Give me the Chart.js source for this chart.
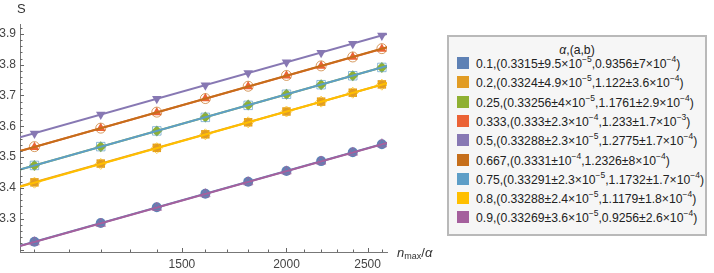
<!DOCTYPE html>
<html>
<head>
<meta charset="utf-8">
<script src="https://cdn.jsdelivr.net/npm/chart.js@4.4.1/dist/chart.umd.min.js"></script>
<style>
  body { margin: 0; background: #fff; font-family: "Liberation Sans", Arial, sans-serif; }
  #wrap { position: relative; width: 714px; height: 273px; }
  #yTitle { position: absolute; left: 17px; top: 1px; font-size: 13px; color: #333; }
  #xTitle { position: absolute; left: 397px; top: 245px; font-size: 13px; color: #333; }
  #xTitle sub { font-size: 9px; font-style: normal; vertical-align: -2px; line-height: 0; }
  #legend { position: absolute; left: 447px; top: 35px; width: 256px; height: 197px;
            background: #f6f6f6; border: 2px solid #b9b9b9; color: #222; }
  #legend .title { position: absolute; left: 0; right: 0; top: 6px; text-align: center; font-size: 12.2px; }
  #legend .row { position: absolute; left: 8px; height: 19px; line-height: 19px; font-size: 12.2px; white-space: nowrap; }
  #legend .sw { display: inline-block; width: 12px; height: 12px; margin-right: 7px; vertical-align: -1px; }
  #legend sup { font-size: 8.5px; vertical-align: baseline; position: relative; top: -6px; line-height: 0; }
</style>
</head>
<body>
<div id="wrap">
  <canvas id="chart" width="714" height="273"></canvas>
  <div id="yTitle">S</div>
  <div id="xTitle"><i>n</i><sub>max</sub>/<i>α</i></div>
  <div id="legend"><div class="title"><i>α</i>,(a,b)</div></div>
</div>
<script>
"use strict";

// x positions (n_max / alpha) of the measured points
const nValues = [1000, 1200, 1400, 1600, 1800, 2000, 2200, 2400, 2600];

const alphas = ["0.1", "0.2", "0.25", "0.333", "0.5", "0.667", "0.75", "0.8", "0.9"];

// measured S for each alpha
const s01 = [3.225, 3.286, 3.337, 3.381, 3.420, 3.455, 3.487, 3.516, 3.542];
const s02 = [3.418, 3.479, 3.530, 3.574, 3.613, 3.648, 3.680, 3.709, 3.736];
const s025 = [3.473, 3.534, 3.585, 3.630, 3.669, 3.704, 3.735, 3.764, 3.791];
const s0333 = [3.532, 3.594, 3.645, 3.690, 3.729, 3.764, 3.796, 3.825, 3.851];
const s05 = [3.577, 3.638, 3.689, 3.733, 3.773, 3.808, 3.839, 3.868, 3.895];
const s0667 = [3.534, 3.594, 3.646, 3.690, 3.730, 3.765, 3.796, 3.825, 3.852];
const s075 = [3.473, 3.534, 3.585, 3.629, 3.668, 3.704, 3.735, 3.764, 3.791];
const s08 = [3.417, 3.478, 3.529, 3.574, 3.613, 3.648, 3.680, 3.709, 3.735];
const s09 = [3.224, 3.284, 3.336, 3.380, 3.419, 3.454, 3.486, 3.515, 3.542];
const measured = [s01, s02, s025, s0333, s05, s0667, s075, s08, s09];

// fitted lines, value at the left and right ends of the x range
const fitX = [961, 2637];
const fitY = [
  [3.212, 3.547], [3.405, 3.740], [3.460, 3.796], [3.520, 3.856], [3.564, 3.900],
  [3.520, 3.857], [3.460, 3.796], [3.404, 3.740], [3.211, 3.546]
];

// legend text: a, error of a, b, error of b  (error as [mantissa, exponent])
const fitA = ["0.3315", "0.3324", "0.33256", "0.333", "0.33288", "0.3331", "0.33291", "0.33288", "0.33269"];
const errA = [["9.5", -5], ["4.9", -5], ["4", -5], ["2.3", -4], ["2.3", -5], ["", -4], ["2.3", -5], ["2.4", -5], ["3.6", -5]];
const fitB = ["0.9356", "1.122", "1.1761", "1.233", "1.2775", "1.2326", "1.1732", "1.1179", "0.9256"];
const errB = [["7", -4], ["3.6", -4], ["2.9", -4], ["1.7", -3], ["1.7", -4], ["8", -4], ["1.7", -4], ["1.8", -4], ["2.6", -4]];

const colors = ["#5E81B5", "#E19C24", "#8FB032", "#EB6235", "#8778B3", "#C56E1A", "#5D9EC7", "#FFBF00", "#A5609D"];
const markers = ["circle", "rect", "rectRot", "triangle", "triangle", "circle", "rect", "rectRot", "triangle"];
const hollow = [false, false, false, false, false, true, true, true, true];

// axis ticks
const xLabels = [1500, 2000, 2500];
const xMinor = [1000, 1100, 1200, 1300, 1400, 1600, 1700, 1800, 1900, 2100, 2200, 2300, 2400, 2500, 2600];
const yLabels = [3.3, 3.4, 3.5, 3.6, 3.7, 3.8, 3.9];
const yMajor = [3.2, 3.3, 3.4, 3.5, 3.6, 3.7, 3.8, 3.9];

const X_MIN = 961, X_MAX = 2637, Y_MIN = 3.192, Y_MAX = 3.932;

const datasets = [];
alphas.forEach((a, i) => {
  datasets.push({
    type: "line",
    label: "fit " + a,
    data: fitX.map((x, k) => ({ x: x, y: fitY[i][k] })),
    borderColor: colors[i],
    borderWidth: 2,
    pointRadius: 0,
    fill: false,
    order: -100 - i,
  });
  datasets.push({
    type: "scatter",
    label: a,
    data: nValues.map((x, k) => ({ x: x, y: measured[i][k] })),
    pointStyle: markers[i],
    rotation: i === 4 ? 180 : 0,
    radius: markers[i] === "circle" ? 5 : (markers[i] === "rect" ? 6 : 5.5),
    backgroundColor: hollow[i] ? "rgba(0,0,0,0)" : colors[i],
    borderColor: hollow[i] ? colors[i] + "b0" : colors[i],
    borderWidth: hollow[i] ? 1 : 0,
    order: -i,
  });
});

// inward tick marks like the original frame
const tickMarks = {
  id: "tickMarks",
  afterDatasetsDraw(chart) {
    const { ctx, chartArea: area, scales: { x, y } } = chart;
    ctx.save();
    ctx.strokeStyle = "#666";
    ctx.lineWidth = 1;
    ctx.beginPath();
    xLabels.concat(xMinor).forEach(v => {
      const px = Math.round(x.getPixelForValue(v)) + 0.5;
      const len = xLabels.includes(v) ? 4 : 2.5;
      ctx.moveTo(px, area.bottom);
      ctx.lineTo(px, area.bottom - len);
    });
    for (let v = 3.2; v < Y_MAX; v += 0.02) {
      const val = Math.round(v * 100) / 100;
      const py = Math.round(y.getPixelForValue(val)) + 0.5;
      const major = yMajor.some(m => Math.abs(m - val) < 1e-6);
      ctx.moveTo(area.left, py);
      ctx.lineTo(area.left + (major ? 4 : 2.5), py);
    }
    ctx.stroke();
    ctx.restore();
  }
};

new Chart(document.getElementById("chart"), {
  data: { datasets: datasets },
  plugins: [tickMarks],
  options: {
    responsive: false,
    devicePixelRatio: 1,
    animation: false,
    layout: { padding: { left: 0, top: 24, right: 327, bottom: 0 } },
    plugins: { legend: { display: false }, tooltip: { enabled: false } },
    scales: {
      x: {
        type: "logarithmic",
        min: X_MIN,
        max: X_MAX,
        bounds: "data",
        afterBuildTicks: (scale) => { scale.ticks = xLabels.map(v => ({ value: v })); },
        afterFit: (scale) => { scale.height = 21; },
        grid: { display: false, drawTicks: false },
        border: { display: true, color: "#777", width: 1 },
        ticks: {
          autoSkip: false,
          maxRotation: 0,
          padding: 5,
          color: "#444",
          font: { family: "Liberation Sans", size: 12 },
          callback: (v) => String(v),
        },
      },
      y: {
        type: "linear",
        min: Y_MIN,
        max: Y_MAX,
        bounds: "data",
        afterBuildTicks: (scale) => { scale.ticks = yLabels.map(v => ({ value: v })); },
        afterFit: (scale) => { scale.width = 20; },
        grid: { display: false, drawTicks: false },
        border: { display: true, color: "#777", width: 1 },
        ticks: {
          padding: 4,
          color: "#444",
          font: { family: "Liberation Sans", size: 12 },
          callback: (v) => v.toFixed(1),
        },
      },
    },
  },
});

// HTML legend with superscript exponents
function errText(e) {
  const m = e[0] === "" ? "" : e[0] + "×";
  return m + "10<sup>−" + Math.abs(e[1]) + "</sup>";
}
const LEGEND = document.getElementById("legend");
alphas.forEach((a, i) => {
  const row = document.createElement("div");
  row.className = "row";
  row.style.top = (18 + i * 19.3) + "px";
  row.innerHTML = '<span class="sw" style="background:' + colors[i] + '"></span>' +
    a + ",(" + fitA[i] + "±" + errText(errA[i]) + "," + fitB[i] + "±" + errText(errB[i]) + ")";
  LEGEND.appendChild(row);
});
</script>
</body>
</html>
